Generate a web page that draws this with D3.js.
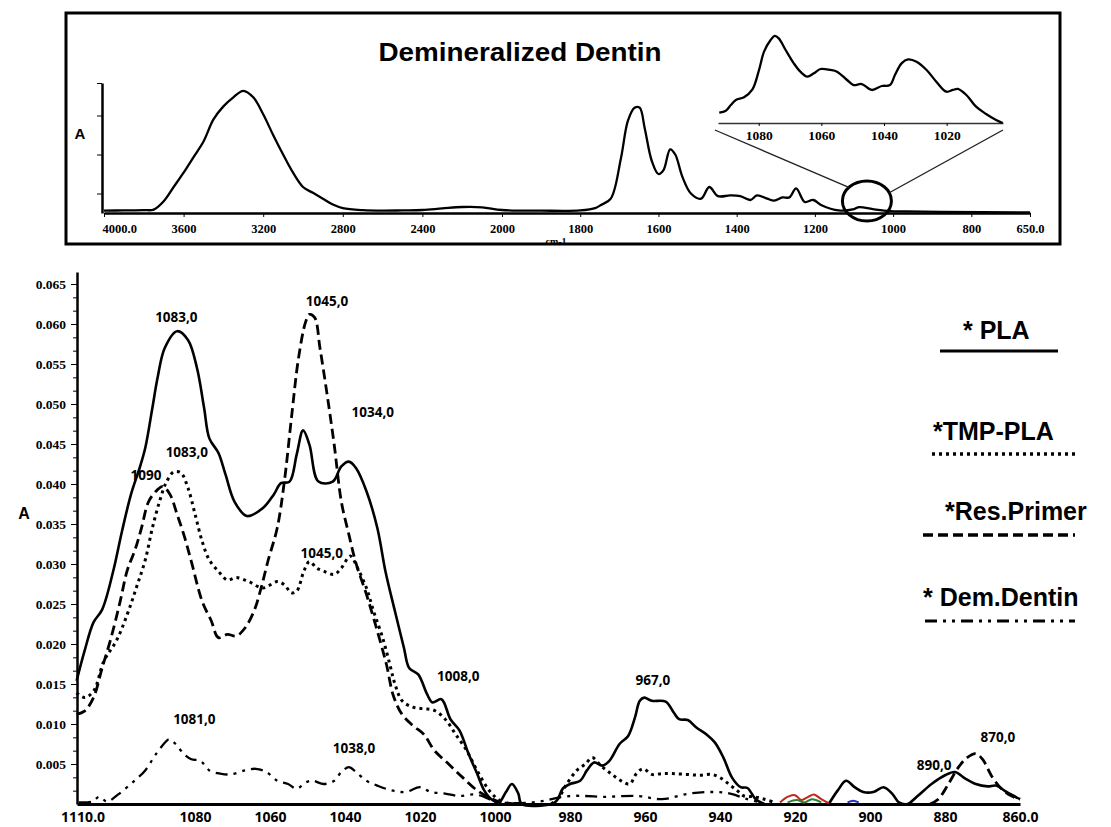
<!DOCTYPE html>
<html lang="en">
<head>
  <meta charset="UTF-8">
  <title>Demineralized Dentin - FTIR</title>
  <script src="https://d3js.org/d3.v7.min.js"></script>
  <style>
    body { margin: 0; background: #fff; }
    svg { display: block; }
  </style>
</head>
<body>
<div id="chart"></div>
<script>
// ---- top panel : full spectrum of demineralized dentin (relative absorbance) ----
const topTicks = [4000, 3600, 3200, 2800, 2400, 2000, 1800, 1600, 1400, 1200, 1000, 800, 650];
const topYTicks = [0.15, 0.45, 0.75, 1];
const topSpectrum = [
  [4000, 0.018], [3900, 0.02], [3800, 0.022], [3750, 0.026], [3700, 0.09], [3650, 0.2],
  [3600, 0.31], [3550, 0.43], [3500, 0.55], [3450, 0.72], [3400, 0.82], [3350, 0.89],
  [3300, 0.94], [3250, 0.89], [3200, 0.76], [3150, 0.6], [3100, 0.45], [3050, 0.31],
  [3000, 0.2], [2950, 0.155], [2900, 0.11], [2850, 0.065], [2800, 0.038], [2700, 0.022],
  [2600, 0.018], [2500, 0.02], [2400, 0.023], [2300, 0.035], [2200, 0.046], [2100, 0.044],
  [2000, 0.023], [1900, 0.018], [1800, 0.02], [1760, 0.04], [1748, 0.06], [1722, 0.11],
  [1696, 0.42], [1678, 0.71], [1661, 0.81], [1648, 0.81], [1635, 0.65], [1617, 0.40],
  [1600, 0.30], [1587, 0.33], [1570, 0.49], [1557, 0.45], [1539, 0.28], [1517, 0.15],
  [1491, 0.11], [1470, 0.20], [1448, 0.13], [1417, 0.135], [1391, 0.13], [1365, 0.10],
  [1348, 0.135], [1322, 0.11], [1304, 0.095], [1283, 0.12], [1265, 0.12], [1248, 0.19],
  [1226, 0.085], [1204, 0.10], [1183, 0.06], [1139, 0.02], [1100, 0.03], [1087, 0.045],
  [1052, 0.03], [1009, 0.015], [965, 0.012], [878, 0.008], [650, 0.005]
];

// inset (zoom of 1093-1002 cm-1)
const insetTicks = [1080, 1060, 1040, 1020];
const insetSpectrum = [
  [1092.6, 0.115], [1090.5, 0.137], [1088.9, 0.2], [1087.3, 0.256], [1084.7, 0.286],
  [1082, 0.374], [1079.9, 0.589], [1078.3, 0.793], [1076.2, 0.922], [1074.9, 0.967],
  [1073.6, 0.941], [1071.4, 0.811], [1068.8, 0.663], [1066.7, 0.57], [1064.5, 0.515],
  [1062.4, 0.552], [1060.3, 0.6], [1057.1, 0.589], [1055, 0.57], [1051.8, 0.478],
  [1049.7, 0.422], [1047.1, 0.433], [1043.9, 0.367], [1040.7, 0.411], [1038.1, 0.422],
  [1036.5, 0.533], [1034.4, 0.663], [1032.3, 0.707], [1029.6, 0.681], [1026.4, 0.589],
  [1023.3, 0.459], [1020.1, 0.348], [1018, 0.367], [1016.4, 0.378], [1013.7, 0.311],
  [1010.6, 0.181], [1007.4, 0.1], [1004.2, 0.033], [1002.1, 0]
];

// ---- bottom panel : 1110-860 cm-1 ----
const xTicks = [1110, 1080, 1060, 1040, 1020, 1000, 980, 960, 940, 920, 900, 880, 860];
const yTicks = [0.005, 0.01, 0.015, 0.02, 0.025, 0.03, 0.035, 0.04, 0.045, 0.05, 0.055, 0.06, 0.065];

const pla = [
  [1111.6, 0.0154], [1109.5, 0.0191], [1107.1, 0.0227], [1104.8, 0.0243], [1101.9, 0.029],
  [1099.5, 0.0341], [1097.1, 0.0387], [1094.8, 0.042], [1093.3, 0.0445], [1091.4, 0.0495],
  [1090, 0.0533], [1088.1, 0.057], [1084.8, 0.0591], [1081.9, 0.058], [1079.5, 0.0545],
  [1077.6, 0.0495], [1076.2, 0.0457], [1073.8, 0.0439], [1071.9, 0.0412], [1069.5, 0.0378],
  [1066.2, 0.036], [1061.9, 0.037], [1059, 0.0387], [1057.1, 0.0401], [1054.8, 0.0403],
  [1052.9, 0.0437], [1051.2, 0.0467], [1049.5, 0.0449], [1047.1, 0.0403], [1043.3, 0.0403],
  [1041, 0.0422], [1039, 0.0428], [1037.1, 0.042], [1034.3, 0.0391], [1031.4, 0.0345],
  [1029.2, 0.029], [1026.7, 0.0241], [1024.3, 0.0195], [1022.9, 0.017], [1020.5, 0.0162],
  [1018.1, 0.0137], [1016.7, 0.0127], [1014.3, 0.0131], [1011.9, 0.0106], [1009.5, 0.0092],
  [1007.1, 0.0063], [1004.8, 0.0038], [1002.9, 0.0017], [1001, 0.0006], [999, 0.0002],
  [997.1, 0.0015], [995.5, 0.0025], [993.8, 0.0013], [992.9, 0], [985, 0],
  [983.6, 0.0004], [981.8, 0.002], [980, 0.0025], [977.3, 0.0029], [975.5, 0.0042],
  [973.6, 0.0052], [971.4, 0.0048], [969.5, 0.0054], [966.8, 0.0075], [964.5, 0.0085],
  [962.7, 0.0108], [961.4, 0.0129], [960.2, 0.0133], [958.2, 0.0129], [954.5, 0.0128],
  [952.3, 0.0114], [950.9, 0.0106], [948.6, 0.0105], [946.4, 0.0096], [943.6, 0.0087],
  [941.4, 0.0077], [939.1, 0.0058], [936.8, 0.0033], [934.5, 0.0021], [932.7, 0.002],
  [930.5, 0.0006], [928.2, 0], null,
  [911, 0], [908.6, 0.0017], [906.4, 0.0029], [904.1, 0.0021], [901.8, 0.0015],
  [899.1, 0.0015], [896.4, 0.0021], [894.1, 0.0013], [892.3, 0.0002], [890, 0],
  [887.3, 0.001], [883.6, 0.0025], [880, 0.0036], [877.3, 0.004], [875, 0.0033],
  [871.8, 0.0025], [868.6, 0.0022], [866.4, 0.0023], [863.6, 0.0015], [860, 0.0006]
];

const tmpPla = [
  [1111.6, 0.0139], [1109.5, 0.0133], [1107.1, 0.0141], [1104.3, 0.0179], [1101, 0.0204],
  [1098.1, 0.0237], [1095.7, 0.027], [1093.3, 0.0305], [1091.4, 0.0345], [1089.5, 0.0378],
  [1087.6, 0.0403], [1085.7, 0.0415], [1083.8, 0.0414], [1081.9, 0.0395], [1080, 0.0362],
  [1078.1, 0.0328], [1076.2, 0.0305], [1073.8, 0.0291], [1071.4, 0.028], [1069, 0.0283],
  [1065.7, 0.0278], [1061.9, 0.027], [1058.1, 0.0278], [1056.2, 0.0274], [1054.3, 0.0264],
  [1052.9, 0.0266], [1051, 0.0291], [1049.5, 0.0303], [1047.6, 0.0295], [1045.7, 0.0291],
  [1042.9, 0.0287], [1041, 0.0295], [1038.6, 0.031], [1036.7, 0.0295], [1034.3, 0.027],
  [1032.4, 0.0241], [1030, 0.0208], [1028.1, 0.0175], [1026.7, 0.015], [1024.8, 0.0129],
  [1021.9, 0.0121], [1019, 0.0119], [1016.2, 0.0117], [1013.3, 0.0106], [1010.5, 0.0087],
  [1007.6, 0.0067], [1004.8, 0.0042], [1001.9, 0.0019], [1000, 0.0009], [998.1, 0.0002],
  null,
  [985, 0], [983, 0.0008], [980.9, 0.0025], [978.2, 0.0042], [975.9, 0.005],
  [974.1, 0.0058], [971.8, 0.0048], [969.1, 0.0038], [966.4, 0.0029], [964.1, 0.0025],
  [962.3, 0.0038], [960.5, 0.0044], [958.2, 0.0037], [955.5, 0.0038], [952.7, 0.0038],
  [949.1, 0.0037], [945.5, 0.0036], [942.3, 0.0037], [940, 0.0033], [937.7, 0.0025],
  [935.5, 0.0017], [933.6, 0.001], [930.9, 0.0009], [928.2, 0.0006], [925.5, 0.0002]
];

const resPrimer = [
  [1111.6, 0.0112], [1109.5, 0.0116], [1107.1, 0.0133], [1104.8, 0.017], [1102.4, 0.0208],
  [1100, 0.0253], [1098.1, 0.0292], [1096, 0.0318], [1094.3, 0.0345], [1092.4, 0.0378],
  [1090, 0.0393], [1088.6, 0.0397], [1086.7, 0.0387], [1084.8, 0.0362], [1082.9, 0.0335],
  [1081, 0.0303], [1078.1, 0.0253], [1075.7, 0.0229], [1073.8, 0.0208], [1071.4, 0.0212],
  [1069, 0.021], [1066.7, 0.022], [1064.3, 0.0241], [1062.4, 0.027], [1060.5, 0.0305],
  [1058.1, 0.0345], [1056.2, 0.0403], [1054.3, 0.0483], [1052.4, 0.0558], [1050.5, 0.0603],
  [1049.5, 0.0612], [1048.1, 0.0608], [1046.7, 0.057], [1044.8, 0.0512], [1042.9, 0.0449],
  [1041, 0.0378], [1039, 0.0337], [1037.1, 0.0301], [1034.3, 0.0262], [1031.4, 0.0216],
  [1029, 0.0175], [1027.1, 0.0135], [1024.8, 0.0112], [1021.9, 0.0098], [1019, 0.0087],
  [1016.2, 0.0067], [1012.4, 0.005], [1008.6, 0.0033], [1004.8, 0.0017], [1001.9, 0.0009],
  [999, 0.0003], [994.3, 0], null,
  [884, 0], [881.8, 0.0006], [879.1, 0.0025], [876.4, 0.0046], [874.1, 0.0058],
  [871.8, 0.0063], [870, 0.0056], [867.3, 0.0033], [864.5, 0.0017], [861.8, 0.0009], [860, 0.0006]
];

const demDentin = [
  [1111, 0.0002], [1107.5, 0.0003], [1105.5, 0.0009], [1103.5, 0.0003], [1100.5, 0.0012],
  [1096.2, 0.0029], [1093.3, 0.0042], [1090.5, 0.0062], [1087.6, 0.0079], [1086.9, 0.0081],
  [1085.2, 0.0075], [1082.9, 0.0062], [1081, 0.0056], [1078.6, 0.0054], [1076.2, 0.0042],
  [1073.3, 0.0038], [1070.5, 0.0037], [1066.7, 0.0042], [1063.8, 0.0044], [1061, 0.004],
  [1058.1, 0.0029], [1055.2, 0.0025], [1052.9, 0.0019], [1050.5, 0.0027], [1048.6, 0.0029],
  [1045.7, 0.0025], [1042.9, 0.0029], [1041, 0.004], [1039, 0.0046], [1037.1, 0.004],
  [1034.3, 0.0029], [1031.4, 0.0023], [1027.6, 0.0017], [1023.8, 0.0015], [1020, 0.0021],
  [1017.1, 0.0015], [1013.3, 0.0013], [1009.5, 0.001], [1005.7, 0.0012], [1002.9, 0.0009],
  [1000, 0.0003], [990, 0.0002], [980, 0.001], [970.9, 0.0009], [961.8, 0.001],
  [955.5, 0.0006], [948.2, 0.0013], [941.8, 0.0015], [937.3, 0.0013], [932.7, 0.0006], [929, 0.0002]
];

// small coloured traces near 920 cm-1
const redTrace = [[924, 0.0002], [922, 0.0009], [920, 0.0011], [918.3, 0.0005], [916.5, 0.0009], [915, 0.0012], [913, 0.0006], [911, 0.0001]];
const greenTrace = [[922, 0.0002], [919.5, 0.0005], [917.5, 0.0002], [915.5, 0.0006], [913, 0.0002]];
const blueTrace = [[906, 0.0002], [904.5, 0.0004], [903, 0.0002]];

// peak annotations [text, wavenumber, absorbance]
const peakLabels = [
  ["1083,0", 1085, 0.0608], ["1045,0", 1044.8, 0.0628], ["1034,0", 1032.6, 0.049],
  ["1083,0", 1082.2, 0.044], ["1090", 1093.1, 0.0411], ["1045,0", 1046.2, 0.0314],
  ["1008,0", 1009.8, 0.016], ["1081,0", 1080.2, 0.0106], ["1038,0", 1037.6, 0.007],
  ["967,0", 957.9, 0.0155], ["890,0", 882.9, 0.0048], ["870,0", 865.9, 0.0083]
];

const seriesNames = ["* PLA", "*TMP-PLA", "*Res.Primer", "* Dem.Dentin"];

const SERIF = "'Liberation Serif', 'Times New Roman', serif";
const SANS = "'Liberation Sans', Arial, sans-serif";

const W = 1111, H = 827;
const svg = d3.select("#chart").append("svg").attr("width", W).attr("height", H);

// ===== top panel =====
svg.append("rect")
  .attr("x", 66).attr("y", 13).attr("width", 994).attr("height", 231)
  .attr("fill", "none").attr("stroke", "#000").attr("stroke-width", 3);

svg.append("text")
  .attr("x", 520).attr("y", 61)
  .attr("text-anchor", "middle")
  .attr("textLength", 283).attr("lengthAdjust", "spacingAndGlyphs")
  .style("font-family", SANS).style("font-weight", "bold")
  .style("font-size", "25px")
  .text("Demineralized Dentin");

const topX = d3.scaleLinear().domain([4000, 2000, 650]).range([104, 502, 1030]);
const topY = d3.scaleLinear().domain([0, 1]).range([213, 83]);

const topXAxis = svg.append("g")
  .attr("transform", "translate(0,213)")
  .call(d3.axisBottom(topX).tickValues(topTicks).tickSize(4).tickPadding(7).tickSizeOuter(0)
    .tickFormat(d => d === 4000 || d === 650 ? d.toFixed(1) : d));
topXAxis.select(".domain").attr("stroke-width", 2.5);
topXAxis.selectAll("text")
  .style("font-family", SERIF).style("font-weight", "bold").style("font-size", "12.5px")
  .attr("fill", "#000");
topXAxis.selectAll("text").filter(d => d === 4000).attr("text-anchor", "start").attr("dx", -2);

const topYAxis = svg.append("g")
  .attr("transform", "translate(102,0)")
  .call(d3.axisLeft(topY).tickValues(topYTicks).tickSize(5).tickFormat("").tickSizeOuter(0));
topYAxis.select(".domain").attr("stroke-width", 2.5);

svg.append("text")
  .attr("x", 80).attr("y", 139).attr("text-anchor", "middle")
  .style("font-family", SANS).style("font-weight", "bold")
  .style("font-size", "15px").text("A");

svg.append("text")
  .attr("x", 556).attr("y", 245).attr("text-anchor", "middle")
  .style("font-family", SERIF).style("font-weight", "bold")
  .style("font-size", "10px").text("cm-1");

svg.append("path")
  .datum(topSpectrum)
  .attr("fill", "none").attr("stroke", "#000").attr("stroke-width", 2.3)
  .attr("d", d3.line().x(d => topX(d[0])).y(d => topY(d[1])).curve(d3.curveCatmullRom.alpha(0.5)));

// circle around 1090-1040 region + connectors to inset
const insetX = d3.scaleLinear().domain([1093, 1002]).range([718, 1003]);
const insetY = d3.scaleLinear().domain([0, 1]).range([123, 33]);

const cx = topX(1067), cy = topY(0.093), rx = 24.5, ry = 20;
svg.append("ellipse")
  .attr("cx", cx).attr("cy", cy).attr("rx", rx).attr("ry", ry)
  .attr("fill", "none").attr("stroke", "#000").attr("stroke-width", 3);

const connectors = [
  [[insetX(1094), 130], [cx + rx * Math.cos(-2.4), cy + ry * Math.sin(-2.4)]],
  [[insetX(1002), 130], [cx + rx * Math.cos(-0.42), cy + ry * Math.sin(-0.42)]]
];
svg.selectAll(".connector").data(connectors).enter().append("line")
  .attr("x1", d => d[0][0]).attr("y1", d => d[0][1])
  .attr("x2", d => d[1][0]).attr("y2", d => d[1][1])
  .attr("stroke", "#222").attr("stroke-width", 1.3);

const insetAxis = svg.append("g")
  .attr("transform", "translate(0,123)")
  .call(d3.axisBottom(insetX).tickValues(insetTicks).tickSize(3).tickPadding(4).tickSizeOuter(0)
    .tickFormat(d => d));
insetAxis.select(".domain").attr("stroke-width", 1.6).attr("stroke", "#333");
insetAxis.selectAll("text")
  .style("font-family", SERIF).style("font-weight", "bold").style("font-size", "13.5px")
  .attr("fill", "#000");

svg.append("path")
  .datum(insetSpectrum)
  .attr("fill", "none").attr("stroke", "#000").attr("stroke-width", 2.3)
  .attr("d", d3.line().x(d => insetX(d[0])).y(d => insetY(d[1])).curve(d3.curveCatmullRom.alpha(0.5)));

// ===== bottom panel =====
const x = d3.scaleLinear().domain([1111.5, 860]).range([77, 1020]);
const y = d3.scaleLinear().domain([0, 0.0665]).range([804, 272]);

const minorTicks = d3.range(1, 40).filter(i => i % 3 !== 0).map(i => i * 0.005 / 3);
svg.append("g")
  .attr("transform", "translate(77,0)")
  .call(d3.axisLeft(y).tickValues(minorTicks).tickSize(4).tickFormat("").tickSizeOuter(0))
  .select(".domain").remove();

const yAxis = svg.append("g")
  .attr("transform", "translate(77,0)")
  .call(d3.axisLeft(y).tickValues(yTicks).tickSize(6).tickPadding(5).tickSizeOuter(0)
    .tickFormat(d3.format(".3f")));
yAxis.select(".domain").attr("stroke-width", 2.5);
yAxis.selectAll("text")
  .style("font-family", SERIF).style("font-weight", "bold").style("font-size", "13.5px")
  .attr("fill", "#000");

const xAxis = svg.append("g")
  .attr("transform", "translate(0,804)")
  .call(d3.axisBottom(x).tickValues(xTicks).tickSize(0).tickPadding(8).tickSizeOuter(0)
    .tickFormat(d => d === 1110 || d === 860 ? d.toFixed(1) : d));
xAxis.select(".domain").attr("stroke-width", 3);
xAxis.selectAll("text").style("font-family", "'Open Sans', sans-serif")
  .style("font-weight", 700).style("font-size", "14px").attr("fill", "#000");

svg.append("text")
  .attr("x", 24).attr("y", 519).attr("text-anchor", "middle")
  .style("font-family", SANS).style("font-weight", "bold")
  .style("font-size", "16px").text("A");

const line = d3.line()
  .defined(d => d != null)
  .x(d => x(d[0])).y(d => y(d[1]))
  .curve(d3.curveCatmullRom.alpha(0.5));

const styles = [
  { data: pla, dash: null, width: 2.6 },
  { data: tmpPla, dash: "3 4", width: 3 },
  { data: resPrimer, dash: "10 5", width: 2.8 },
  { data: demDentin, dash: "12 6 3 6 3 6", width: 2.3 }
];

styles.forEach(s => {
  svg.append("path")
    .datum(s.data)
    .attr("fill", "none")
    .attr("stroke", "#000")
    .attr("stroke-width", s.width)
    .attr("stroke-dasharray", s.dash)
    .attr("d", line);
});

[[redTrace, "#c0281e"], [greenTrace, "#2e7d32"], [blueTrace, "#2233bb"]].forEach(([data, color]) => {
  svg.append("path").datum(data)
    .attr("fill", "none").attr("stroke", color).attr("stroke-width", 2)
    .attr("d", line);
});

svg.selectAll(".peak").data(peakLabels).enter().append("text")
  .attr("class", "peak")
  .attr("x", d => x(d[1])).attr("y", d => y(d[2]))
  .attr("dy", "0.35em")
  .attr("text-anchor", "middle")
  .style("font-family", "'Open Sans', sans-serif").style("font-weight", 700)
  .style("font-size", "13.5px")
  .text(d => d[0]);

// legend
const legendPos = [
  { tx: 963, ty: 339, x1: 940, x2: 1058, ly: 351 },
  { tx: 933, ty: 440, x1: 932, x2: 1077, ly: 454 },
  { tx: 945, ty: 520, x1: 923, x2: 1075, ly: 535 },
  { tx: 923, ty: 606, x1: 925, x2: 1075, ly: 621 }
];
seriesNames.forEach((name, i) => {
  const p = legendPos[i];
  svg.append("text")
    .attr("x", p.tx).attr("y", p.ty)
    .style("font-family", SANS).style("font-weight", "bold")
    .style("font-size", "25px").text(name);
  svg.append("line")
    .attr("x1", p.x1).attr("x2", p.x2).attr("y1", p.ly).attr("y2", p.ly)
    .attr("stroke", "#000").attr("stroke-width", styles[i].width + 0.6)
    .attr("stroke-dasharray", styles[i].dash);
});
</script>
</body>
</html>
